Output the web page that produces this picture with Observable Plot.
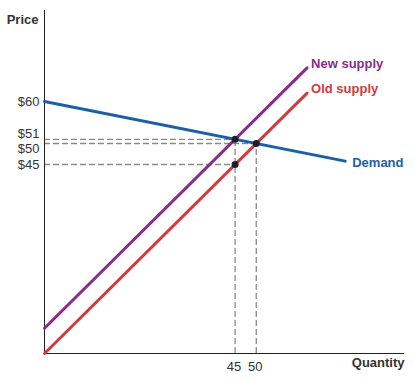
<!DOCTYPE html>
<html>
<head>
<meta charset="utf-8">
<script src="https://cdn.jsdelivr.net/npm/d3@7"></script>
<script src="https://cdn.jsdelivr.net/npm/@observablehq/plot@0.6"></script>
<style>
  html, body { margin: 0; padding: 0; background: #fff; }
  #chart svg { display: block; font-family: "Liberation Sans", Arial, sans-serif; }
</style>
</head>
<body>
<div id="chart"></div>
<script>
// Line endpoints (quantity, price)
const demandQ = [0, 71];
const demandP = [60, 45.8];
const oldSupplyQ = [0, 62];
const oldSupplyP = [0, 62];
const newSupplyQ = [0, 62];
const newSupplyP = [6, 68];
// Equilibrium / reference points
const pointQ = [45, 50, 45];
const pointP = [51, 50, 45];
// Ticks
const xTicks = [45, 50];
const yTicks = [60, 51, 50, 45];
const yTickLabels = ["$60", "$51", "$50", "$45"];
const seriesNames = ["New supply", "Old supply", "Demand"];

const colors = {demand: "#1c5fa6", old: "#d33a3e", neu: "#8a2c8a"};
const textColor = "#333";
const lastIdx = 1;

const chart = Plot.plot({
  width: 414,
  height: 380,
  marginLeft: 44,
  marginRight: 10,
  marginTop: 10,
  marginBottom: 27,
  x: {domain: [0, 85], axis: null},
  y: {domain: [0, 81.67], axis: null},
  style: {fontFamily: "'Liberation Sans', Arial, sans-serif", fontSize: "13px", background: "#fff"},
  marks: [
    // dashed guide lines
    Plot.ruleY(pointP, {y: d => d, x1: 0, x2: (d, i) => pointQ[i], stroke: "#8a8a8a", strokeWidth: 1.3, strokeDasharray: "6,3"}),
    Plot.ruleX(pointQ.slice(0, 2), {x: d => d, y1: 0, y2: (d, i) => pointP[i], stroke: "#8a8a8a", strokeWidth: 1.3, strokeDasharray: "6,3"}),
    // axes
    Plot.ruleX([0], {y1: 0, y2: 81.67, stroke: "#222", strokeWidth: 1}),
    Plot.ruleY([0], {x1: 0, x2: 85, stroke: "#222", strokeWidth: 1}),
    // curves
    Plot.line(demandQ, {x: d => d, y: (d, i) => demandP[i], stroke: colors.demand, strokeWidth: 3}),
    Plot.line(oldSupplyQ, {x: d => d, y: (d, i) => oldSupplyP[i], stroke: colors.old, strokeWidth: 3}),
    Plot.line(newSupplyQ, {x: d => d, y: (d, i) => newSupplyP[i], stroke: colors.neu, strokeWidth: 3}),
    // dots
    Plot.dot(pointQ, {x: d => d, y: (d, i) => pointP[i], r: 3.5, fill: "#1e1e2e", stroke: "none"}),
    // curve labels
    Plot.text([seriesNames[0]], {x: newSupplyQ[lastIdx], y: newSupplyP[lastIdx], textAnchor: "start", dx: 4, dy: -4, fill: colors.neu, fontWeight: "bold", fontSize: 13}),
    Plot.text([seriesNames[1]], {x: oldSupplyQ[lastIdx], y: oldSupplyP[lastIdx], textAnchor: "start", dx: 4, dy: -4, fill: colors.old, fontWeight: "bold", fontSize: 13}),
    Plot.text([seriesNames[2]], {x: demandQ[lastIdx], y: demandP[lastIdx], textAnchor: "start", dx: 7, dy: 2, fill: colors.demand, fontWeight: "bold", fontSize: 13}),
    // y tick labels
    Plot.text([0, 3], {x: 0, y: i => yTicks[i], text: i => yTickLabels[i], textAnchor: "end", dx: -5, fill: textColor, fontSize: 13}),
    Plot.text([1], {x: 0, y: i => yTicks[i], text: i => yTickLabels[i], textAnchor: "end", dx: -5, dy: -5, fill: textColor, fontSize: 13}),
    Plot.text([2], {x: 0, y: i => yTicks[i], text: i => yTickLabels[i], textAnchor: "end", dx: -5, dy: 5, fill: textColor, fontSize: 13}),
    // x tick labels
    Plot.text(xTicks, {x: d => d, y: 0, text: d => String(d), dy: 13, dx: -1, fill: textColor, fontSize: 13}),
    // axis titles
    Plot.text(["Price"], {frameAnchor: "top-left", textAnchor: "end", dx: -6, dy: 4, fill: textColor, fontWeight: "bold", fontSize: 13}),
    Plot.text(["Quantity"], {frameAnchor: "bottom-right", textAnchor: "end", dy: 13, fill: textColor, fontWeight: "bold", fontSize: 13})
  ]
});
document.getElementById("chart").appendChild(chart);
</script>
</body>
</html>
